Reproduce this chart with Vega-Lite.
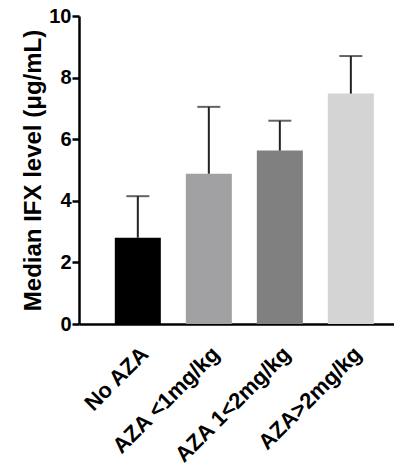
{
  "$schema": "https://vega.github.io/schema/vega-lite/v6.json",
  "autosize": "none",
  "width": 315,
  "height": 308,
  "padding": {"left": 79, "top": 16, "right": 0, "bottom": 147},
  "config": {"view": {"stroke": null}, "font": "Liberation Sans"},
  "data": {"values": [
    {"group": "No AZA", "value": 2.8, "upper": 4.15},
    {"group": "AZA <1mg/kg", "value": 4.88, "upper": 7.05},
    {"group": "AZA 1<2mg/kg", "value": 5.63, "upper": 6.6},
    {"group": "AZA>2mg/kg", "value": 7.48, "upper": 8.7}
  ]},
  "encoding": {
    "x": {
      "field": "group", "type": "nominal", "sort": null,
      "scale": {"paddingInner": 0.352, "paddingOuter": 0.394, "align": 0.64},
      "axis": {
        "title": null, "ticks": false, "labelAngle": -45,
        "labelFontSize": 22, "labelFontWeight": "bold", "labelColor": "black",
        "labelPadding": 19, "labelDx": -9, "domainColor": "black", "domainWidth": 2.5
      }
    }
  },
  "layer": [
    {
      "mark": {"type": "bar"},
      "encoding": {
        "y": {
          "field": "value", "type": "quantitative",
          "scale": {"domain": [0, 10], "nice": false},
          "axis": {
            "title": "Median IFX level (μg/mL)", "values": [0, 2, 4, 6, 8, 10],
            "grid": false, "domainColor": "black", "domainWidth": 2.5,
            "tickColor": "black", "tickWidth": 2.5, "tickSize": 7,
            "labelFontSize": 20, "labelFontWeight": "bold", "labelColor": "black",
            "labelPadding": 1, "titleFontSize": 24, "titleFontWeight": "bold",
            "titleColor": "black", "titlePadding": 3
          }
        },
        "color": {
          "field": "group", "type": "nominal",
          "scale": {"domain": ["No AZA", "AZA <1mg/kg", "AZA 1<2mg/kg", "AZA>2mg/kg"], "range": ["#000000", "#a1a1a4", "#808080", "#d4d4d4"]},
          "legend": null
        }
      }
    },
    {
      "mark": {"type": "rule", "color": "#222222", "strokeWidth": 2},
      "encoding": {"y": {"field": "value", "type": "quantitative"}, "y2": {"field": "upper"}}
    },
    {
      "mark": {"type": "tick", "color": "#222222", "thickness": 2, "size": 23},
      "encoding": {"y": {"field": "upper", "type": "quantitative"}}
    }
  ]
}
